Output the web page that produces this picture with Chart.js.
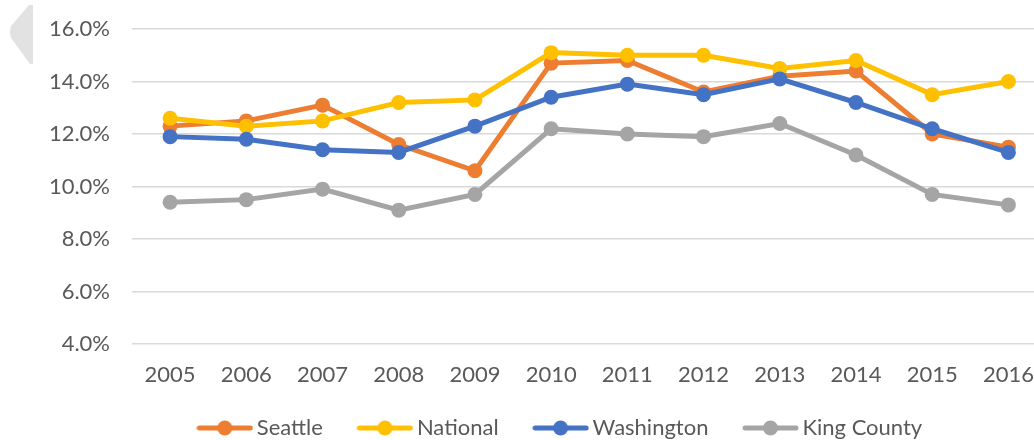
<!DOCTYPE html>
<html>
<head>
<meta charset="utf-8">
<script src="https://cdn.jsdelivr.net/npm/chart.js@4.4.1/dist/chart.umd.min.js"></script>
<style>
  html, body { margin: 0; padding: 0; background: #ffffff; overflow: hidden; }
  #wrap { width: 1034px; height: 440px; overflow: hidden; position: relative; }
  canvas { display: block; }
</style>
</head>
<body>
<div id="wrap"><canvas id="c" width="1054" height="462"></canvas></div>
<script>
const years = ['2005','2006','2007','2008','2009','2010','2011','2012','2013','2014','2015','2016'];
const seattle    = [12.3, 12.5, 13.1, 11.6, 10.6, 14.7, 14.8, 13.6, 14.2, 14.4, 12.0, 11.5];
const national   = [12.6, 12.3, 12.5, 13.2, 13.3, 15.1, 15.0, 15.0, 14.5, 14.8, 13.5, 14.0];
const washington = [11.9, 11.8, 11.4, 11.3, 12.3, 13.4, 13.9, 13.5, 14.1, 13.2, 12.2, 11.3];
const kingCounty = [9.4, 9.5, 9.9, 9.1, 9.7, 12.2, 12.0, 11.9, 12.4, 11.2, 9.7, 9.3];
const seriesNames = ['Seattle', 'National', 'Washington', 'King County'];
const yTicks = [4, 6, 8, 10, 12, 14, 16];

const colors = ['#ED7D31', '#FFC000', '#4472C4', '#A5A5A5'];
const seriesData = [seattle, national, washington, kingCounty];
const FONT = 'Lato, "Open Sans", sans-serif';
const TEXT = '#595959';
const FS = 22;
const CLEAR = 'rgba(0,0,0,0)';

function legendIcon(color) {
  const cv = document.createElement('canvas');
  cv.width = 57; cv.height = 18;
  const g = cv.getContext('2d');
  g.strokeStyle = color; g.lineWidth = 5; g.lineCap = 'round';
  g.beginPath(); g.moveTo(3, 9); g.lineTo(54, 9); g.stroke();
  g.fillStyle = color;
  g.beginPath(); g.arc(28.5, 9, 7.5, 0, Math.PI * 2); g.fill();
  return cv;
}
const icons = colors.map(legendIcon);

const tabPlugin = {
  id: 'tab',
  beforeDraw(chart) {
    const ctx = chart.ctx;
    ctx.save();
    ctx.fillStyle = '#e2e2e2';
    ctx.beginPath();
    ctx.moveTo(33, 5);
    ctx.lineTo(29, 5);
    ctx.lineTo(11, 26);
    ctx.quadraticCurveTo(9, 32, 11, 38);
    ctx.lineTo(30, 64);
    ctx.lineTo(33, 64);
    ctx.closePath();
    ctx.fill();
    ctx.restore();
  }
};

const legendShift = {
  id: 'legendShift',
  afterLayout(chart) {
    const lg = chart.legend;
    if (!lg) return;
    lg.left += 36; lg.right += 36;
    lg.top -= 13; lg.bottom -= 13;
  }
};

new Chart(document.getElementById('c'), {
  type: 'line',
  data: {
    labels: years,
    datasets: seriesNames.map((name, i) => ({
      label: name,
      data: seriesData[i],
      borderColor: colors[i],
      backgroundColor: colors[i],
      pointBackgroundColor: colors[i],
      pointBorderColor: colors[i],
      borderWidth: 5,
      pointRadius: 7.5,
      pointBorderWidth: 0,
      pointHoverRadius: 7.5,
      tension: 0,
      order: seriesNames.length - 1 - i
    }))
  },
  options: {
    responsive: false,
    animation: false,
    events: [],
    layout: { padding: { top: 29, right: 0, bottom: 0, left: 0 } },
    scales: {
      x: {
        offset: true,
        grid: { display: true, color: CLEAR, drawTicks: true, tickLength: 18, tickColor: CLEAR },
        border: { display: false },
        ticks: { color: TEXT, font: { family: FONT, size: FS }, padding: 0, maxRotation: 0, autoSkip: false },
        afterFit(s) { s.height = 45; }
      },
      y: {
        min: 4, max: 16,
        afterBuildTicks(s) { s.ticks = yTicks.map(v => ({ value: v })); },
        grid: { color: '#d9d9d9', lineWidth: 1.5, drawTicks: true, tickLength: 22, tickColor: CLEAR },
        border: { display: false },
        ticks: { color: TEXT, font: { family: FONT, size: FS }, padding: 0, callback: v => v.toFixed(1) + '%' },
        afterFit(s) { s.width = 132; }
      }
    },
    plugins: {
      tooltip: { enabled: false },
      legend: {
        position: 'bottom',
        labels: {
          usePointStyle: true,
          pointStyleWidth: 42,
          padding: 41,
          color: TEXT,
          font: { family: FONT, size: FS },
          generateLabels(chart) {
            return seriesNames.map((name, i) => ({
              text: name,
              pointStyle: icons[i],
              fillStyle: colors[i],
              strokeStyle: colors[i],
              lineWidth: 0,
              fontColor: TEXT,
              hidden: false,
              datasetIndex: i
            }));
          }
        }
      }
    }
  },
  plugins: [tabPlugin, legendShift]
});
</script>
</body>
</html>
